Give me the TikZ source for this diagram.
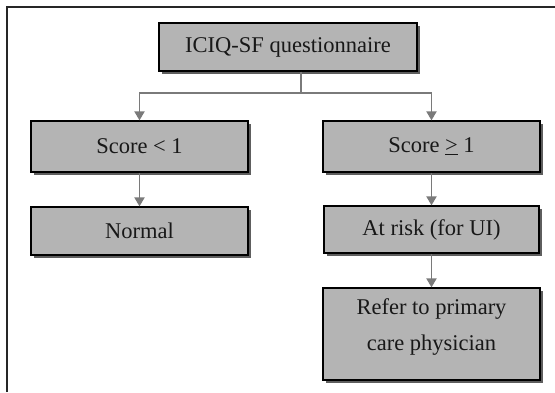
\documentclass[tikz,border=0pt]{standalone}
\usepackage{fontspec}
\setmainfont{Liberation Serif}
\usetikzlibrary{arrows.meta,shadows}
\definecolor{boxfill}{HTML}{B4B4B4}
\definecolor{shadowgray}{HTML}{5E5E5E}
\definecolor{conngray}{HTML}{7A7A7A}
\definecolor{textdark}{HTML}{181818}
\begin{document}
\begin{tikzpicture}[x=1pt,y=-1pt,
  flowbox/.style={draw=black, line width=1.2pt, fill=boxfill, text=textdark,
    inner sep=0pt, align=center, font=\fontsize{22.5}{36}\selectfont,
    drop shadow={shadow xshift=3pt, shadow yshift=-3pt, fill=shadowgray, opacity=1}},
  conn/.style={draw=conngray, line width=1.8pt},
  arr/.style={conn, -{Triangle[width=10pt,length=9pt]}},
  frameline/.style={draw=black!85, line width=1.6pt}]
\useasboundingbox (0,0) rectangle (555,392);
\fill[white] (0,0) rectangle (555,392);
\draw[frameline] (7,392) -- (7,7) -- (555,7);
\node[flowbox, minimum width=258pt, minimum height=48pt] (top) at (288,47) {ICIQ-SF questionnaire};
\node[flowbox, minimum width=217pt, minimum height=51pt] (s1) at (139.5,146.5) {Score < 1};
\node[flowbox, minimum width=217pt, minimum height=51pt] (s2) at (431.5,146.5) {Score \underline{>} 1};
\node[flowbox, minimum width=217pt, minimum height=48pt] (normal) at (139.5,231) {Normal};
\node[flowbox, minimum width=215pt, minimum height=47pt] (risk) at (431.5,229.5) {At risk (for UI)};
\node[flowbox, minimum width=217pt, minimum height=92pt] (refer) at (431.5,334) {};
\node[text=textdark, align=center, font=\fontsize{22.5}{36}\selectfont, inner sep=0pt] (refertext) at (431.5,327) {Refer to primary\\care physician};
\coordinate (j) at (301,93);
\draw[conn] (top.south -| j) -- (j);
\draw[arr] (j) -| (s1.north);
\draw[arr] (j) -| (s2.north);
\draw[arr] (s1.south) -- (normal.north);
\draw[arr] (s2.south) -- (risk.north);
\draw[arr] (risk.south) -- (refer.north);
\end{tikzpicture}
\end{document}
